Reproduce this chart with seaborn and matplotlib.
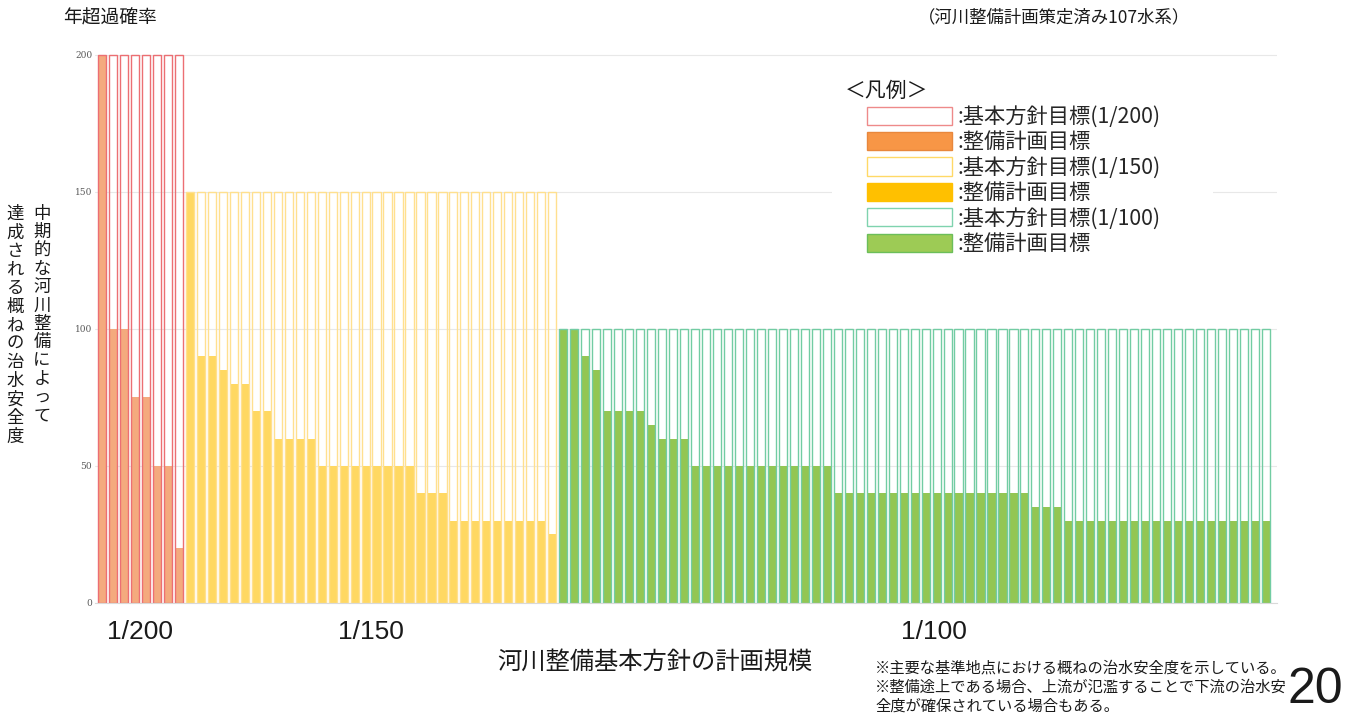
import matplotlib
matplotlib.use("Agg")
import matplotlib.pyplot as plt
from matplotlib.patches import Patch, Rectangle
import pandas as pd
import seaborn as sns

# Planned flood-protection levels per river system, grouped by the scale of the
# long-term basic policy target (1/200, 1/150, 1/100).
scale_labels = ["1/200", "1/150", "1/100"]
scale_targets = [200, 150, 100]

plan_1_200 = [200, 100, 100, 75, 75, 50, 50, 20]
plan_1_150 = [150, 90, 90, 85, 80, 80, 70, 70, 60, 60, 60, 60,
              50, 50, 50, 50, 50, 50, 50, 50, 50,
              40, 40, 40,
              30, 30, 30, 30, 30, 30, 30, 30, 30,
              25]
plan_1_100 = [100, 100, 90, 85, 70, 70, 70, 70, 65, 60, 60, 60,
              50, 50, 50, 50, 50, 50, 50, 50, 50, 50, 50, 50, 50,
              40, 40, 40, 40, 40, 40, 40, 40, 40, 40, 40, 40, 40, 40, 40, 40, 40, 40,
              35, 35, 35,
              30, 30, 30, 30, 30, 30, 30, 30, 30, 30, 30, 30, 30, 30, 30, 30, 30, 30, 30]

ytick_values = [0, 50, 100, 150, 200]
group_label_pos = [3.5, 24.5, 75.8]

legend_labels = [":基本方針目標(1/200)", ":整備計画目標",
                 ":基本方針目標(1/150)", ":整備計画目標",
                 ":基本方針目標(1/100)", ":整備計画目標"]

# Long-form table: one row per river system
plans = [plan_1_200, plan_1_150, plan_1_100]
rows = []
idx = 0
for label, target, values in zip(scale_labels, scale_targets, plans):
    for v in values:
        rows.append({"river": idx, "scale": label, "target": target, "plan": v})
        idx += 1
df = pd.DataFrame(rows)

fill_pal = {"1/200": "#F4AA7E", "1/150": "#FFD862", "1/100": "#93C653"}
edge_pal = {"1/200": "#EC6F73", "1/150": "#FFE08F", "1/100": "#72CCA3"}

sns.set_theme(style="white")
plt.rcParams["font.family"] = ["Noto Sans CJK JP", "DejaVu Sans"]

W, H = 1359, 717
fig = plt.figure(figsize=(W / 100, H / 100), dpi=100)
ax = fig.add_axes([95 / W, (H - 603) / H, 1182 / W, 553.5 / H])

# Achieved (planned) level as solid bars
sns.barplot(data=df, x="river", y="plan", hue="scale", hue_order=scale_labels,
            palette=fill_pal, saturation=1, dodge=False, width=0.74, linewidth=0,
            errorbar=None, legend=False, ax=ax)
# Basic-policy target as hollow outlines
sns.barplot(data=df, x="river", y="target", hue="scale", hue_order=scale_labels,
            palette=edge_pal, saturation=1, dodge=False, width=0.74, fill=False,
            linewidth=1.0, errorbar=None, legend=False, ax=ax)

ax.set_xlim(-0.64, 107.0)
ax.set_ylim(0, 202)
ax.set_axisbelow(True)
ax.yaxis.grid(True, color="#E8E8E8", linewidth=0.8)
ax.xaxis.grid(False)
for s in ["top", "right", "left"]:
    ax.spines[s].set_visible(False)
ax.spines["bottom"].set_color("#D9D9D9")
ax.spines["bottom"].set_linewidth(0.8)

ax.set_yticks(ytick_values)
ax.set_yticklabels([str(v) for v in ytick_values], family="DejaVu Serif",
                   fontsize=6.5, color="#595959")
ax.tick_params(axis="y", length=0, pad=2)
ax.set_xticks(group_label_pos)
ax.set_xticklabels(scale_labels, family="Liberation Sans", fontsize=19, color="#1A1A1A")
ax.tick_params(axis="x", length=0, pad=12)
ax.set_xlabel("")
ax.set_ylabel("")

# Legend panel
fig.add_artist(Rectangle((832 / W, 1 - 262 / H), (1213 - 832) / W, (262 - 75) / H,
                         transform=fig.transFigure, facecolor="white",
                         edgecolor="none", zorder=1))
handles = [
    Patch(facecolor="white", edgecolor="#EE8A8A", linewidth=1),
    Patch(facecolor="#F79646", edgecolor="#E8873C", linewidth=1),
    Patch(facecolor="white", edgecolor="#FFD966", linewidth=1),
    Patch(facecolor="#FFC000", edgecolor="#FFC000", linewidth=1),
    Patch(facecolor="white", edgecolor="#7FD3AE", linewidth=1),
    Patch(facecolor="#9DCB55", edgecolor="#6BBE5A", linewidth=1),
]
fig.legend(handles=handles, labels=legend_labels, loc="upper left",
           bbox_to_anchor=(867 / W, 1 - 106 / H), bbox_transform=fig.transFigure,
           frameon=False, borderpad=0, borderaxespad=0,
           handlelength=4.0, handleheight=0.95, handletextpad=0.25,
           labelspacing=0.16, prop={"size": 15.3})
fig.text(845 / W, 1 - 91 / H, "＜凡例＞", fontsize=15, va="center", ha="left",
         color="#1A1A1A", zorder=6)

# Titles and axis captions
fig.text(110 / W, 1 - 18 / H, "年超過確率", fontsize=13.5, ha="center", va="center",
         color="#1A1A1A")
fig.text(1054 / W, 1 - 17 / H, "（河川整備計画策定済み107水系）", fontsize=12.5,
         ha="center", va="center", color="#1A1A1A")
fig.text(655 / W, 1 - 663 / H, "河川整備基本方針の計画規模", fontsize=17.5,
         ha="center", va="center", color="#1A1A1A")

col_right = "中期的な河川整備によって"
col_left = "達成される概ねの治水安全度"
fig.text(42 / W, 1 - 205 / H, "\n".join(col_right), fontsize=12.5, ha="center",
         va="top", linespacing=1.02, color="#1A1A1A")
fig.text(15 / W, 1 - 205 / H, "\n".join(col_left), fontsize=12.5, ha="center",
         va="top", linespacing=1.04, color="#1A1A1A")

# Footnotes and page number
notes = ["※主要な基準地点における概ねの治水安全度を示している。",
         "※整備途上である場合、上流が氾濫することで下流の治水安",
         "全度が確保されている場合もある。"]
for i, line in enumerate(notes):
    fig.text(875 / W, 1 - (668 + 19 * i) / H, line, fontsize=11, ha="left",
             va="center", color="#1A1A1A")
fig.text(1315 / W, 1 - 690 / H, "20", fontsize=36, family="Liberation Sans",
         ha="center", va="center", color="#1A1A1A")

fig.savefig("out.png", dpi=100)
